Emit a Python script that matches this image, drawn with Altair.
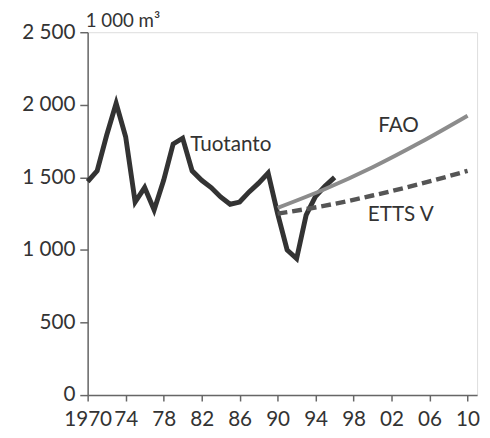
import altair as alt
import pandas as pd

# Production (Tuotanto), 1 000 m3
prod_years = list(range(1970, 1997))
prod_values = [1470, 1545, 1790, 2010, 1780, 1330, 1430, 1275, 1480, 1730, 1770,
               1545, 1480, 1430, 1365, 1315, 1330, 1400, 1460, 1530, 1250,
               1000, 940, 1240, 1370, 1440, 1500]

# FAO projection
fao_years = [1990, 1995, 2000, 2005, 2010]
fao_values = [1290, 1420, 1570, 1740, 1925]

# ETTS V projection
etts_years = [1990, 1995, 2000, 2005, 2010]
etts_values = [1250, 1305, 1375, 1455, 1545]

x_ticks = [1970, 1974, 1978, 1982, 1986, 1990, 1994, 1998, 2002, 2006, 2010]
y_ticks = [0, 500, 1000, 1500, 2000, 2500]

label_text = ["Tuotanto", "FAO", "ETTS V"]
label_year = [1980.8, 2000.6, 1999.5]
label_value = [1725, 1850, 1240]

FONT = "Lato"

prod = pd.DataFrame({"year": prod_years, "value": prod_values})
fao = pd.DataFrame({"year": fao_years, "value": fao_values})
etts = pd.DataFrame({"year": etts_years, "value": etts_values})
labels = pd.DataFrame({"year": label_year, "value": label_value, "text": label_text})

xscale = alt.Scale(domain=[1970, 2011], nice=False, zero=False)
yscale = alt.Scale(domain=[0, 2500], nice=False)

xaxis = alt.Axis(values=x_ticks, title=None, grid=False, domainColor="#666",
                 tickColor="#666", tickSize=6, labelFontSize=21, labelFont=FONT,
                 labelColor="#333", labelPadding=8, domainWidth=1.5, tickWidth=1.5,
                 labelOverlap=False, labelFlush=False, labelBound=False,
                 labelExpr="datum.value == 1970 ? '1970' : slice(toString(datum.value), 2)")
yaxis = alt.Axis(values=y_ticks, title=None, grid=False, domainColor="#666",
                 tickColor="#666", tickSize=8, labelFontSize=21, labelFont=FONT,
                 labelColor="#333", labelPadding=5, domainWidth=1.5, tickWidth=1.5,
                 labelOverlap=False, labelFlush=False, labelBound=False,
                 labelExpr="replace(format(datum.value, ','), ',', ' ')")

X = alt.X("year:Q", scale=xscale, axis=xaxis)
Y = alt.Y("value:Q", scale=yscale, axis=yaxis)

prod_line = alt.Chart(prod).mark_line(color="#333333", strokeWidth=5, strokeJoin="miter").encode(x=X, y=Y)
fao_line = alt.Chart(fao).mark_line(color="#8c8c8c", strokeWidth=4, interpolate="monotone").encode(x=X, y=Y)
etts_line = alt.Chart(etts).mark_line(color="#555555", strokeWidth=4.5, strokeDash=[10, 5],
                                      interpolate="monotone").encode(x=X, y=Y)

text = alt.Chart(labels).mark_text(align="left", baseline="middle", fontSize=21, font=FONT,
                                   color="#333").encode(x=X, y=Y, text="text:N")

unit = alt.Chart(pd.DataFrame({"t": ["1 000 m³"]})).mark_text(
    align="left", baseline="alphabetic", fontSize=19, font=FONT, color="#333").encode(
    x=alt.value(-2), y=alt.value(-5), text="t:N")

chart = alt.layer(prod_line, fao_line, etts_line, text, unit).properties(
    width=396, height=369,
    autosize=alt.AutoSizeParams(type="none"),
    padding={"left": 81, "top": 21, "right": 5, "bottom": 40},
).configure_view(stroke="#777", strokeWidth=1.5).configure(background="white")

chart.save("out.html", embed_options={"renderer": "svg", "actions": False})
